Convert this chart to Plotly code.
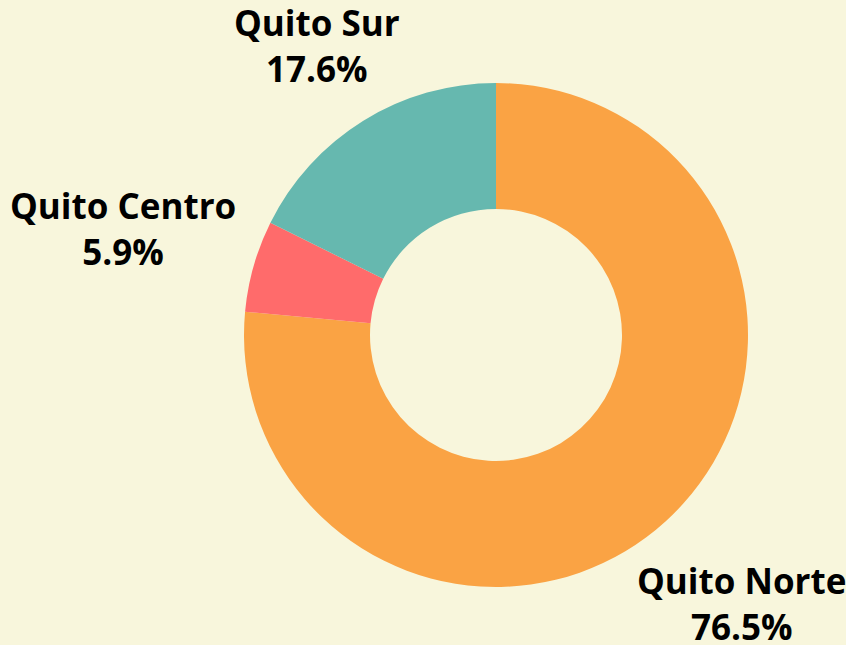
import math
import plotly.graph_objects as go

labels = ["Quito Norte", "Quito Centro", "Quito Sur"]
values = [13, 1, 3]
colors = ["#FAA344", "#FF6B6B", "#66B8AF"]
label_distance = [1.444, 1.540, 1.349]  # label distance from centre, in pie radii

fig = go.Figure(go.Pie(
    labels=labels,
    values=values,
    hole=0.5,
    sort=False,
    direction="clockwise",
    marker=dict(colors=colors, line=dict(width=0)),
    textinfo="none",
    domain=dict(x=[0, 1], y=[0, 1]),
    showlegend=False,
))

# labels placed along each slice's mid-angle (clockwise from 12 o'clock)
total = sum(values)
cum = 0
for lab, v, d in zip(labels, values, label_distance):
    mid = (cum + v / 2) / total * 2 * math.pi
    cum += v
    x = 0.5 + 0.5 * d * math.sin(mid)
    y = 0.5 + 0.5 * d * math.cos(mid)
    fig.add_annotation(
        x=x, y=y, xref="paper", yref="paper",
        text=f"<b>{lab}</b><br><b>{v / total * 100:.1f}%</b>",
        showarrow=False, xanchor="center", yanchor="middle", align="center",
        font=dict(family="Open Sans", size=35, color="#000000"),
    )

fig.update_layout(
    width=846, height=645,
    margin=dict(l=244, r=98, t=83, b=58),
    paper_bgcolor="#F8F6DC",
    plot_bgcolor="#F8F6DC",
)

fig.write_html("out.html", config={"displayModeBar": False},
               post_script="document.body.style.margin='0px';")
